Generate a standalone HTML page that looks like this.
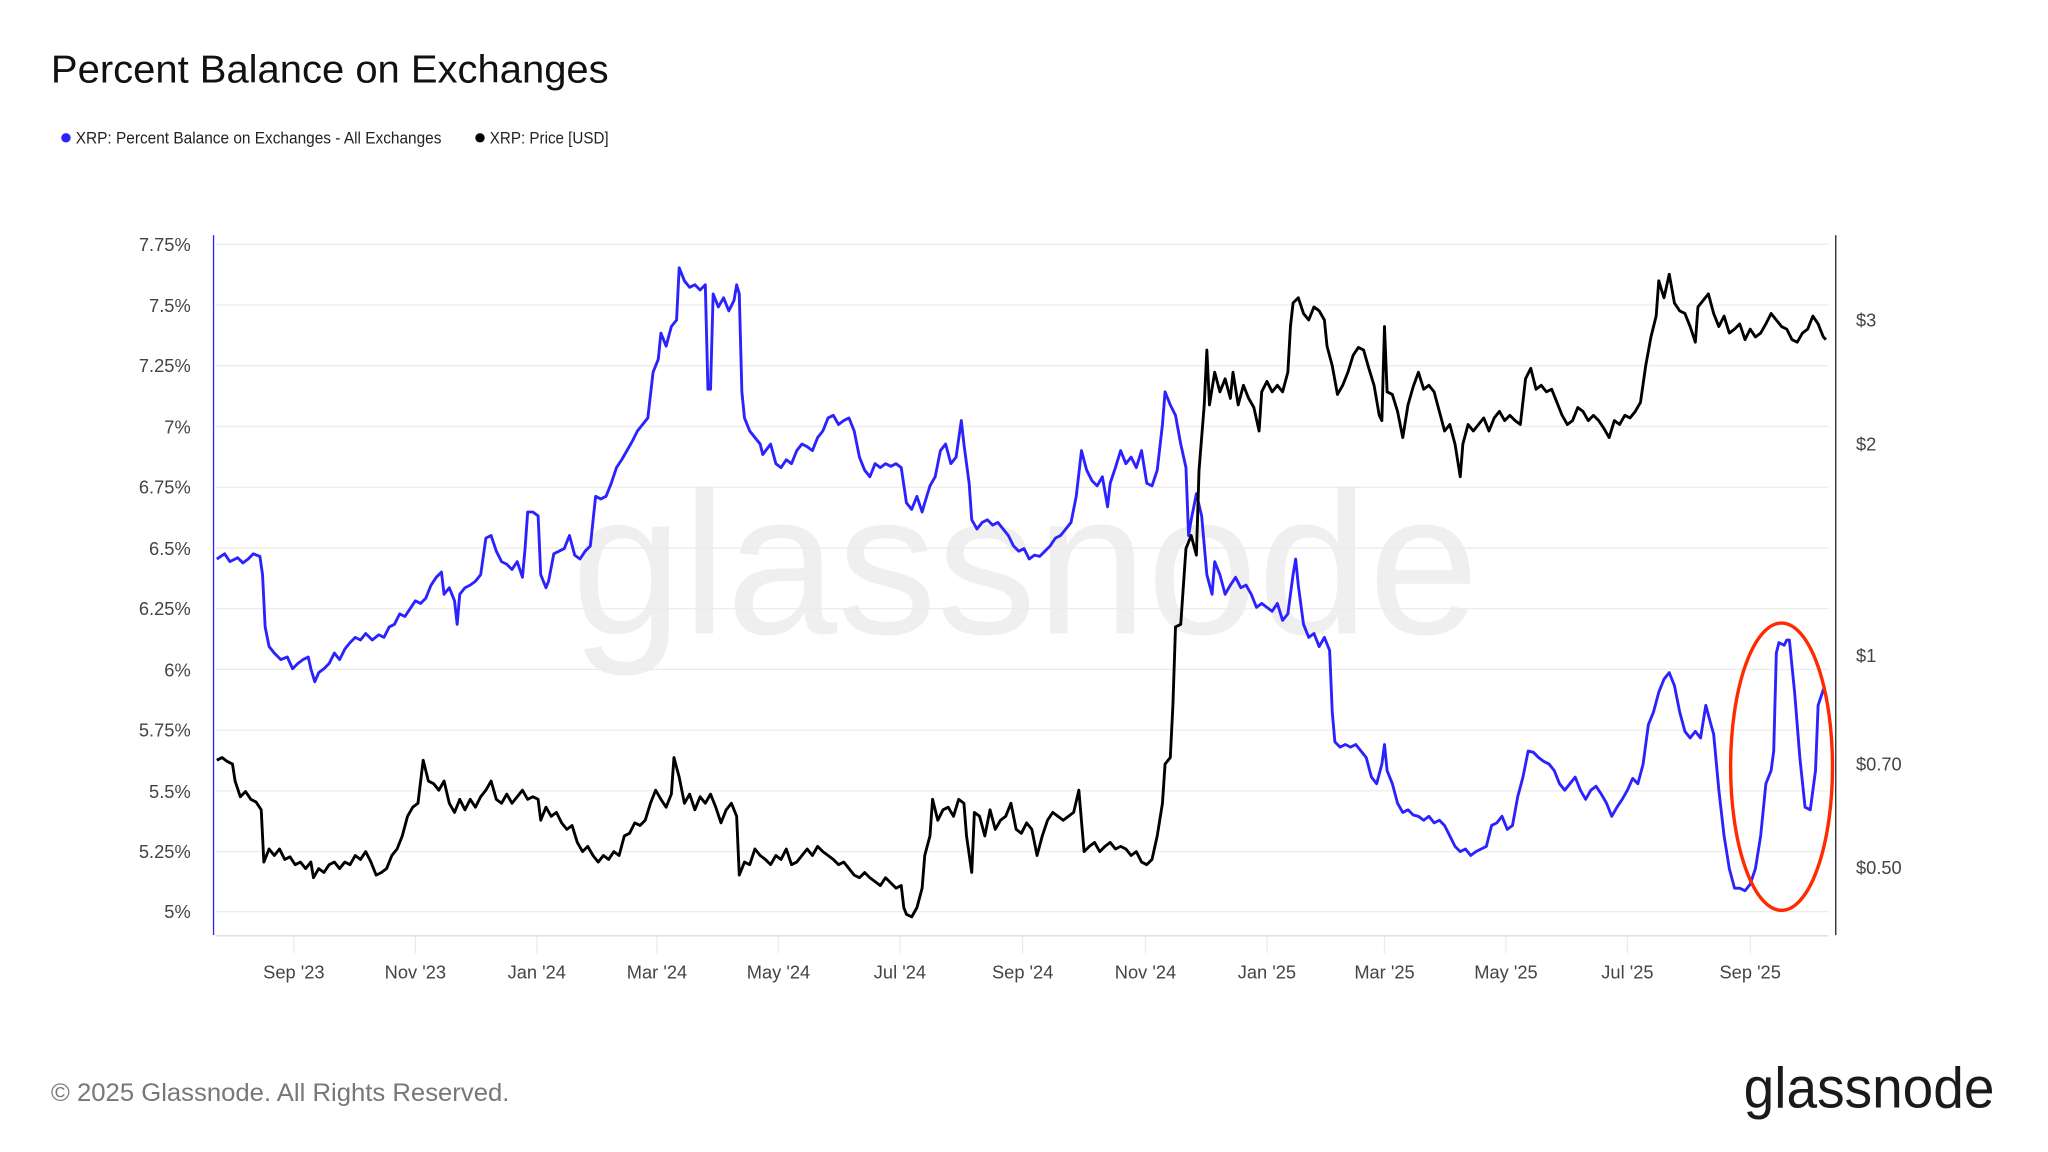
<!DOCTYPE html>
<html><head><meta charset="utf-8"><style>
html,body{margin:0;padding:0;background:#fff;}
svg{display:block;}
text{font-family:"Liberation Sans",Arial,sans-serif;}
</style></head><body>
<svg width="2048" height="1152" viewBox="0 0 1568 882" preserveAspectRatio="none" xmlns="http://www.w3.org/2000/svg">
<rect width="1568" height="882" fill="#fff"/>
<text x="39" y="63" font-size="30" fill="#111" textLength="427" lengthAdjust="spacingAndGlyphs">Percent Balance on Exchanges</text>
<circle cx="50.5" cy="105.5" r="3.6" fill="#2b22ff"/>
<text x="58" y="110" font-size="12.5" fill="#222" textLength="280" lengthAdjust="spacingAndGlyphs">XRP: Percent Balance on Exchanges - All Exchanges</text>
<circle cx="367.5" cy="105.5" r="3.6" fill="#000"/>
<text x="375" y="110" font-size="12.5" fill="#222" textLength="91" lengthAdjust="spacingAndGlyphs">XRP: Price [USD]</text>

<text x="785" y="485" font-size="155" fill="#efefef" text-anchor="middle" textLength="695" lengthAdjust="spacingAndGlyphs">glassnode</text>

<g stroke="#ececec" stroke-width="1">
<line x1="165" x2="1400" y1="187" y2="187"/><line x1="165" x2="1400" y1="233.5" y2="233.5"/>
<line x1="165" x2="1400" y1="280" y2="280"/><line x1="165" x2="1400" y1="326.5" y2="326.5"/>
<line x1="165" x2="1400" y1="373" y2="373"/><line x1="165" x2="1400" y1="419.5" y2="419.5"/>
<line x1="165" x2="1400" y1="466" y2="466"/><line x1="165" x2="1400" y1="512.5" y2="512.5"/>
<line x1="165" x2="1400" y1="559" y2="559"/><line x1="165" x2="1400" y1="605.5" y2="605.5"/>
<line x1="165" x2="1400" y1="652" y2="652"/><line x1="165" x2="1400" y1="698" y2="698"/>
<line x1="165" x2="1400" y1="716.5" y2="716.5" stroke="#ddd"/>
<line x1="225" x2="225" y1="717" y2="730"/><line x1="318" x2="318" y1="717" y2="730"/>
<line x1="411" x2="411" y1="717" y2="730"/><line x1="503" x2="503" y1="717" y2="730"/>
<line x1="596" x2="596" y1="717" y2="730"/><line x1="689" x2="689" y1="717" y2="730"/>
<line x1="783" x2="783" y1="717" y2="730"/><line x1="877" x2="877" y1="717" y2="730"/>
<line x1="970" x2="970" y1="717" y2="730"/><line x1="1060" x2="1060" y1="717" y2="730"/>
<line x1="1153" x2="1153" y1="717" y2="730"/><line x1="1246" x2="1246" y1="717" y2="730"/>
<line x1="1340" x2="1340" y1="717" y2="730"/>
</g>
<line x1="163.5" x2="163.5" y1="180" y2="716" stroke="#2b22ff" stroke-width="1"/>
<line x1="1405.5" x2="1405.5" y1="180" y2="716" stroke="#222" stroke-width="1"/>

<g font-size="14" fill="#444" text-anchor="end">
<text x="146" y="192">7.75%</text><text x="146" y="239">7.5%</text><text x="146" y="285">7.25%</text>
<text x="146" y="332">7%</text><text x="146" y="378">6.75%</text><text x="146" y="425">6.5%</text>
<text x="146" y="471">6.25%</text><text x="146" y="518">6%</text><text x="146" y="564">5.75%</text>
<text x="146" y="611">5.5%</text><text x="146" y="657">5.25%</text><text x="146" y="703">5%</text>
</g>
<g font-size="14" fill="#444">
<text x="1421" y="250">$3</text><text x="1421" y="345">$2</text><text x="1421" y="507">$1</text>
<text x="1421" y="590">$0.70</text><text x="1421" y="669">$0.50</text>
</g>
<g font-size="14" fill="#444" text-anchor="middle">
<text x="225" y="749">Sep '23</text><text x="318" y="749">Nov '23</text><text x="411" y="749">Jan '24</text>
<text x="503" y="749">Mar '24</text><text x="596" y="749">May '24</text><text x="689" y="749">Jul '24</text>
<text x="783" y="749">Sep '24</text><text x="877" y="749">Nov '24</text><text x="970" y="749">Jan '25</text>
<text x="1060" y="749">Mar '25</text><text x="1153" y="749">May '25</text><text x="1246" y="749">Jul '25</text>
<text x="1340" y="749">Sep '25</text>
</g>

<polyline fill="none" stroke="#2b22ff" stroke-width="2.2" stroke-linejoin="round" points="166,428 172,424 176,430 182,427 186,431 190,428 194,424 199,426 201,440 203,480 206,495 210,500 215,505 220,503 224,512 228,508 232,505 236,503 238,512 241,522 244,515 248,512 252,508 256,500 260,505 264,497 268,492 272,488 276,490 280,485 285,490 290,486 294,488 298,480 302,478 306,470 310,472 314,466 318,460 322,462 326,458 330,448 334,442 338,438 340,455 344,450 348,460 350,478 352,455 356,450 360,448 364,445 368,440 372,412 376,410 380,422 384,430 388,432 392,436 396,430 400,442 402,420 404,392 408,392 412,395 414,440 418,450 420,445 424,424 428,422 432,420 436,410 440,425 444,428 448,422 452,418 456,380 460,382 464,380 468,370 472,358 476,352 480,345 484,338 488,330 492,325 496,320 500,285 504,275 506,255 510,265 514,250 518,245 520,205 524,215 528,220 532,218 536,222 540,218 542,298 544,298 546,225 550,235 554,228 558,238 562,230 564,218 566,225 568,300 570,320 574,330 578,335 582,340 584,348 590,340 594,355 598,358 602,352 606,355 610,345 614,340 618,342 622,345 626,335 630,330 634,320 638,318 642,325 646,322 650,320 654,330 658,350 662,360 666,365 670,355 674,358 678,355 682,357 686,355 690,358 694,385 698,390 702,380 706,392 708,385 712,372 716,365 720,345 724,340 728,355 732,350 736,322 738,340 742,370 744,398 748,405 752,400 756,398 760,402 764,400 768,405 772,410 776,418 780,422 784,420 788,428 792,425 796,426 800,422 804,418 808,412 812,410 816,405 820,400 824,380 828,345 832,360 836,368 840,372 844,365 848,388 850,370 854,358 858,345 862,355 866,350 870,358 874,345 878,370 882,372 886,360 890,325 892,300 896,310 900,318 904,340 908,358 910,410 912,398 916,378 920,395 924,440 928,455 930,430 934,440 938,455 942,448 946,442 950,450 954,448 958,455 962,465 966,462 970,465 974,468 978,462 982,475 986,470 990,440 992,428 994,448 998,478 1002,488 1006,485 1010,495 1014,488 1018,498 1020,545 1022,568 1026,572 1030,570 1034,572 1038,570 1042,575 1046,580 1050,595 1054,600 1058,585 1060,570 1062,590 1066,600 1070,615 1074,622 1078,620 1082,624 1086,625 1090,628 1094,625 1098,630 1102,628 1106,632 1110,640 1114,648 1118,652 1122,650 1126,655 1130,652 1134,650 1138,648 1142,632 1146,630 1150,625 1154,635 1158,632 1162,610 1166,595 1170,575 1174,576 1178,580 1182,583 1186,585 1190,590 1194,600 1198,605 1202,600 1206,595 1210,605 1214,612 1218,605 1222,602 1226,608 1230,615 1234,625 1238,618 1242,612 1246,605 1250,596 1254,600 1258,585 1262,555 1266,545 1270,530 1274,520 1278,515 1282,525 1286,545 1290,560 1294,565 1298,560 1302,565 1306,540 1310,555 1312,562 1316,605 1320,640 1324,665 1328,680 1332,680 1336,682 1340,677 1344,665 1348,640 1352,600 1356,590 1358,575 1360,500 1362,492 1366,494 1368,490 1370,490 1374,530 1378,580 1382,618 1386,620 1390,590 1392,540 1396,528 1398,532"/>

<polyline fill="none" stroke="#000" stroke-width="2.2" stroke-linejoin="round" points="166,582 170,580 174,583 178,585 180,598 184,610 188,606 192,612 196,614 200,620 202,660 206,650 210,655 214,650 218,658 222,656 226,662 230,660 234,665 238,660 240,672 244,665 248,668 252,662 256,660 260,665 264,660 268,662 272,655 276,658 280,652 284,660 288,670 292,668 296,665 300,655 304,650 308,640 312,625 316,618 320,615 324,582 328,598 332,600 336,605 340,598 344,615 348,622 352,612 356,620 360,612 364,618 368,610 372,605 376,598 380,612 384,615 388,608 392,615 396,610 400,605 404,612 408,610 412,612 414,628 418,618 422,625 426,622 430,630 434,635 438,632 442,645 446,652 450,648 454,655 458,660 462,655 466,658 470,652 474,655 478,640 482,638 486,630 490,632 494,628 498,615 502,605 506,612 510,618 514,608 516,580 520,595 524,615 528,608 532,620 536,610 540,615 544,608 548,618 552,630 556,620 560,615 564,625 566,670 570,660 574,662 578,650 582,655 586,658 590,662 594,655 598,658 602,650 606,662 610,660 614,655 618,650 622,655 626,648 630,652 634,655 638,658 642,662 646,660 650,665 654,670 658,672 662,668 666,672 670,675 674,678 678,672 682,676 686,680 690,678 692,695 694,700 698,702 702,695 706,680 708,655 712,640 714,612 718,628 722,620 726,618 730,625 734,612 738,615 740,640 744,668 746,622 750,625 754,640 758,620 762,635 766,628 770,625 774,615 778,635 782,638 786,630 790,635 794,655 798,640 802,628 806,622 810,625 814,628 818,625 822,622 826,605 830,652 834,648 838,645 842,652 846,648 850,645 854,650 858,648 862,650 866,655 870,652 874,660 878,662 882,658 886,640 890,615 892,585 896,580 898,540 900,480 904,478 908,420 912,410 916,425 918,360 922,310 924,268 926,310 930,285 934,300 938,290 942,305 944,285 948,310 952,295 956,305 960,312 964,330 966,300 970,292 974,300 978,295 982,300 986,285 988,250 990,232 994,228 998,240 1002,245 1006,235 1010,238 1014,245 1016,265 1020,280 1024,302 1028,295 1032,285 1036,272 1040,266 1044,268 1048,282 1052,295 1056,318 1058,322 1060,250 1062,300 1066,302 1070,315 1074,335 1078,310 1082,296 1086,285 1090,298 1094,295 1098,300 1102,315 1106,330 1110,325 1114,340 1118,365 1120,340 1124,325 1128,330 1132,325 1136,320 1140,330 1144,320 1148,315 1152,322 1156,318 1160,322 1164,325 1168,290 1172,282 1176,298 1180,295 1184,300 1188,298 1192,308 1196,318 1200,325 1204,322 1208,312 1212,315 1216,322 1220,318 1224,322 1228,328 1232,335 1236,322 1240,325 1244,318 1248,320 1252,315 1256,308 1260,280 1264,258 1268,242 1270,215 1274,228 1278,210 1282,232 1286,238 1290,240 1294,250 1298,262 1300,235 1304,230 1308,225 1312,240 1316,250 1320,242 1324,255 1328,252 1332,248 1336,260 1340,252 1344,258 1348,255 1352,248 1356,240 1360,245 1364,250 1368,252 1372,260 1376,262 1380,255 1384,252 1388,242 1392,248 1396,258 1398,260"/>

<ellipse cx="1364" cy="587" rx="39" ry="110" fill="none" stroke="#ff2a00" stroke-width="2.6"/>

<text x="39" y="843" font-size="19" fill="#777" textLength="351" lengthAdjust="spacingAndGlyphs">© 2025 Glassnode. All Rights Reserved.</text>
<text x="1335" y="848" font-size="44" fill="#1a1a1a" textLength="192" lengthAdjust="spacingAndGlyphs">glassnode</text>
</svg>
</body></html>
